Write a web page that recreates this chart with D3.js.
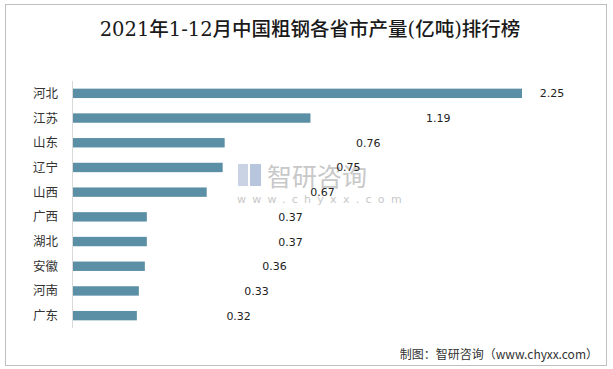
<!DOCTYPE html>
<html><head><meta charset="utf-8">
<script src="https://cdn.jsdelivr.net/npm/d3@7/dist/d3.min.js"></script>
<style>body{margin:0;background:#fff}svg{display:block}</style>
</head><body>
<script>
const categories = ["河北","江苏","山东","辽宁","山西","广西","湖北","安徽","河南","广东"];
const values = [2.25,1.19,0.76,0.75,0.67,0.37,0.37,0.36,0.33,0.32];
// value-label anchor positions, in value units (labels in the original are offset from bar ends)
const labelAt = [2.40,1.83,1.48,1.38,1.25,1.09,1.09,1.01,0.92,0.83];
const title = "2021年1-12月中国粗钢各省市产量(亿吨)排行榜";
const source = "制图：智研咨询（www.chyxx.com）";

const W = 613, H = 369;
const svg = d3.select("body").append("svg").attr("width", W).attr("height", H);
svg.append("rect").attr("x",5.5).attr("y",4.5).attr("width",601).attr("height",361)
  .attr("fill","#fff").attr("stroke","#bfbfbf");

svg.append("text").attr("x",310).attr("y",36).attr("text-anchor","middle")
  .attr("font-family","'DejaVu Serif','Noto Sans CJK SC',serif").attr("font-size",19.5)
  .attr("font-weight",500).attr("fill","#1a1a1a").text(title);

const x = d3.scaleLinear().domain([0,2.25]).range([73,522]);
const y = d3.scaleBand().domain(categories).range([81,328]).paddingInner(0.62).paddingOuter(0.31);

// watermark
const wm = svg.append("g");
wm.append("rect").attr("x",238).attr("y",164).attr("width",10).attr("height",22).attr("fill","#c9d3e3");
wm.append("rect").attr("x",250).attr("y",164).attr("width",11).attr("height",22).attr("fill","#b7c6dc");
wm.append("text").attr("x",267).attr("y",186).attr("font-family","'Noto Sans CJK SC'").attr("font-size",25)
  .attr("fill","#c8c8c8").text("智研咨询");
wm.append("text").attr("x",237).attr("y",203).attr("font-family","'DejaVu Sans'").attr("font-size",11)
  .attr("letter-spacing",6.3).attr("fill","#c8c8c8").text("www.chyxx.com");

svg.append("g").selectAll("rect").data(values).join("rect")
  .attr("x", x(0)).attr("y",(d,i)=>y(categories[i])).attr("height",y.bandwidth())
  .attr("width",d=>x(d)-x(0)).attr("fill","#5b8fa6");

svg.append("line").attr("x1",72.5).attr("x2",72.5).attr("y1",81).attr("y2",328).attr("stroke","#d9d9d9");

svg.append("g").selectAll("text").data(categories).join("text")
  .attr("x",58).attr("y",d=>y(d)+y.bandwidth()/2).attr("dy","0.36em").attr("text-anchor","end")
  .attr("font-family","'Noto Sans CJK SC'").attr("font-size",12.5).attr("fill","#333").text(d=>d);

svg.append("g").selectAll("text").data(values).join("text")
  .attr("x",(d,i)=>x(labelAt[i])).attr("y",(d,i)=>y(categories[i])+y.bandwidth()/2).attr("dy","0.36em")
  .attr("text-anchor","middle").attr("font-family","'DejaVu Sans'").attr("font-size",11)
  .attr("fill","#222").text(d=>d.toFixed(2));

svg.append("text").attr("x",598).attr("y",359).attr("text-anchor","end")
  .attr("font-family","'Noto Sans CJK SC'").attr("font-size",12).attr("fill","#333").text(source);
</script>
</body></html>
